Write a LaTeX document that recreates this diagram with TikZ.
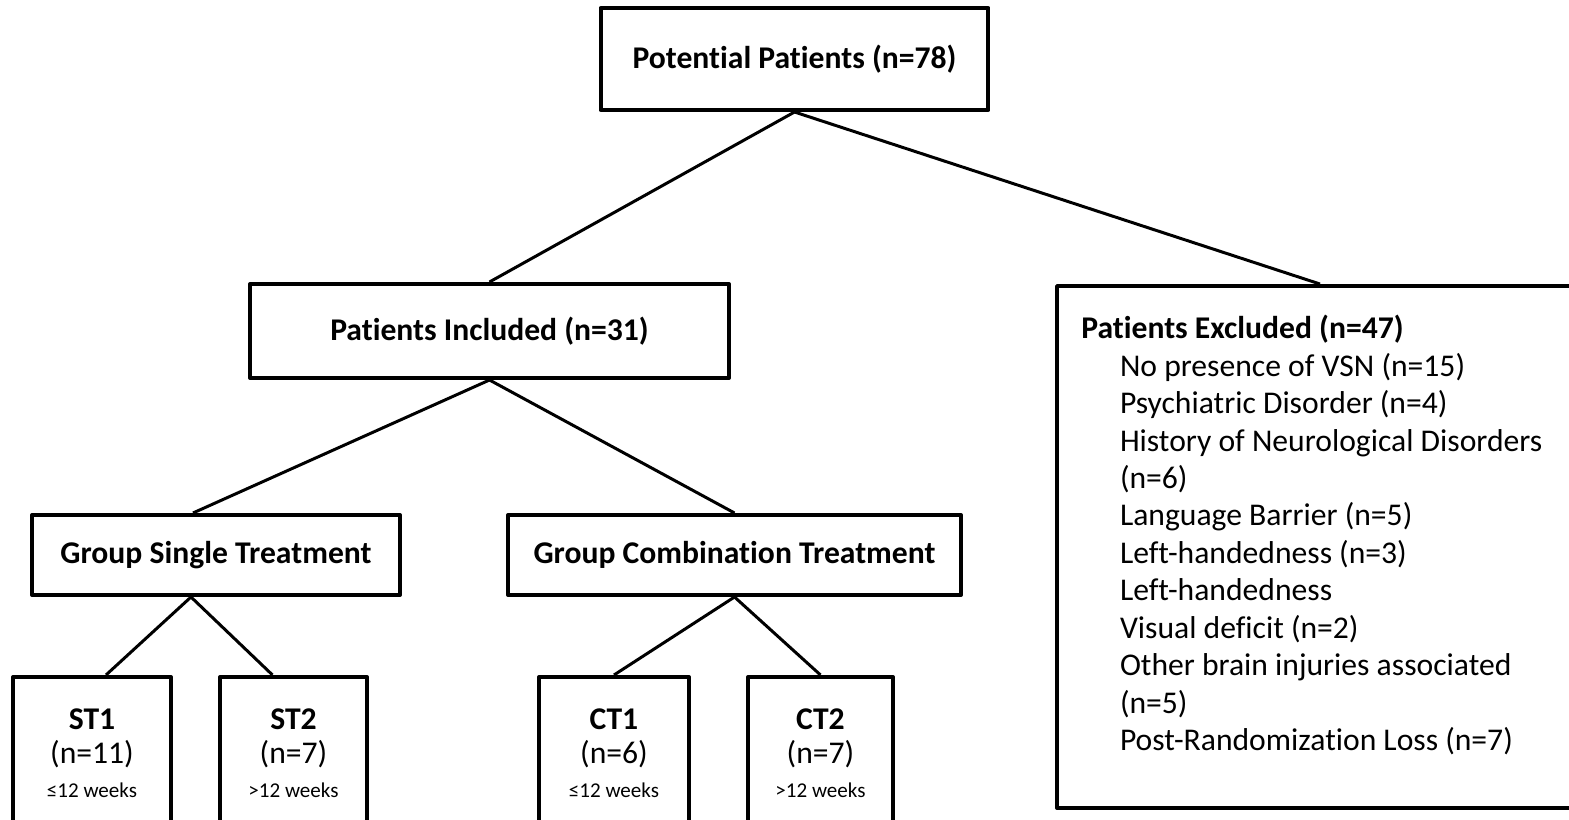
\documentclass[tikz,border=0pt]{standalone}
\usepackage{fontspec}
\setmainfont{Carlito}[Ligatures=NoCommon]
\usetikzlibrary{calc}
\tikzset{
    box/.style={draw,line width=2.3pt,line join=round,inner sep=0pt,align=center,font=\fontsize{18}{19.3}\selectfont},
    leaf/.style={box,minimum height=3.06cm},
    link/.style={line width=1.7pt}
}
\newcommand{\wk}[1]{{\fontsize{12}{14}\selectfont #1}}

\begin{document}
\begin{tikzpicture}[x=0.02cm,y=-0.02cm]
    \useasboundingbox (0,0) rectangle (1569,820);
    \node[box,minimum width=7.76cm,minimum height=2.04cm] (pot) at (794.5,59) {\textbf{Potential Patients (n=78)}};
    \node[box,minimum width=9.58cm,minimum height=1.88cm] (inc) at (489.5,331) {\textbf{Patients Included (n=31)}};
    % right edge of this box is off the page
    \node[box,minimum width=11cm,minimum height=10.44cm] (exc) at (1332,547) {};
    \node[anchor=north west,align=left,inner sep=0pt,font=\fontsize{18}{21.3}\selectfont] (exclist) at (1081,315) {%
        \textbf{Patients Excluded (n=47)}\\
        \hspace*{22pt}No presence of VSN (n=15)\\
        \hspace*{22pt}Psychiatric Disorder (n=4)\\
        \hspace*{22pt}History of Neurological Disorders\\
        \hspace*{22pt}(n=6)\\
        \hspace*{22pt}Language Barrier (n=5)\\
        \hspace*{22pt}Left-handedness (n=3)\\
        \hspace*{22pt}Left-handedness\\
        \hspace*{22pt}Visual deficit (n=2)\\
        \hspace*{22pt}Other brain injuries associated\\
        \hspace*{22pt}(n=5)\\
        \hspace*{22pt}Post-Randomization Loss (n=7)};
    \node[box,minimum width=7.36cm,minimum height=1.6cm] (gs) at (216,555) {\textbf{Group Single Treatment}};
    \node[box,minimum width=9.06cm,minimum height=1.6cm] (gc) at (734.5,555) {\textbf{Group Combination Treatment}};
    % bottom boxes run off the page
    \node[leaf,minimum width=3.16cm] (st1) at (92,753.5) {\textbf{ST1}\\(n=11)\\\wk{≤12 weeks}};
    \node[leaf,minimum width=2.94cm] (st2) at (293.5,753.5) {\textbf{ST2}\\(n=7)\\\wk{>12 weeks}};
    \node[leaf,minimum width=3.0cm] (ct1) at (614,753.5) {\textbf{CT1}\\(n=6)\\\wk{≤12 weeks}};
    \node[leaf,minimum width=2.9cm] (ct2) at (820.5,753.5) {\textbf{CT2}\\(n=7)\\\wk{>12 weeks}};
    \draw[link] (pot.south) -- (inc.north);
    \draw[link] (pot.south) -- ($(exc.north)+(-12,0)$);
    \draw[link] (inc.south) -- ($(gs.north)+(-23,0)$);
    \draw[link] (inc.south) -- (gc.north);
    \draw[link] ($(gs.south)+(-25,0)$) -- ($(st1.north)+(14,0)$);
    \draw[link] ($(gs.south)+(-25,0)$) -- ($(st2.north)+(-21,0)$);
    \draw[link] (gc.south) -- (ct1.north);
    \draw[link] (gc.south) -- (ct2.north);
\end{tikzpicture}
\end{document}
